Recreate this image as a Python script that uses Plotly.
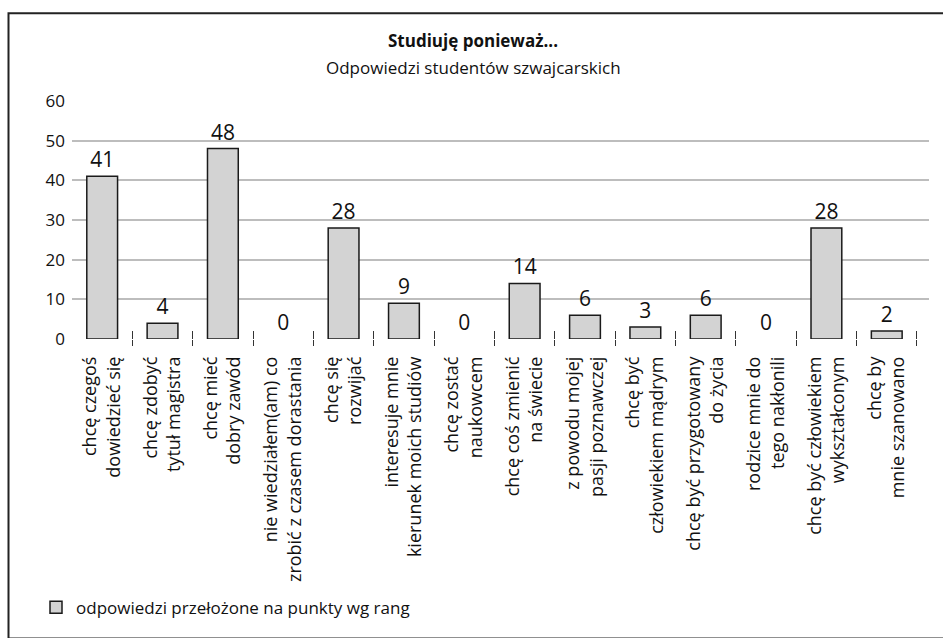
import plotly.graph_objects as go

# Reasons for studying, answers converted to rank points
categories = [
    "chcę czegoś<br>dowiedzieć się",
    "chcę zdobyć<br>tytuł magistra",
    "chcę mieć<br>dobry zawód",
    "nie wiedziałem(am) co<br>zrobić z czasem dorastania",
    "chcę się<br>rozwijać",
    "interesuje mnie<br>kierunek moich studiów",
    "chcę zostać<br>naukowcem",
    "chcę coś zmienić<br>na świecie",
    "z powodu mojej<br>pasji poznawczej",
    "chcę być<br>człowiekiem mądrym",
    "chcę być przygotowany<br>do życia",
    "rodzice mnie do<br>tego nakłonili",
    "chcę być człowiekiem<br>wykształconym",
    "chcę by<br>mnie szanowano",
]
points = [41, 4, 48, 0, 28, 9, 0, 14, 6, 3, 6, 0, 28, 2]
y_ticks = [0, 10, 20, 30, 40, 50, 60]
series_name = "odpowiedzi przełożone na punkty wg rang"

FONT = "Open Sans"
W, H = 943, 638
ML, MR, MT, MB = 72, 14, 101, 297
pw, ph = W - ML - MR, H - MT - MB

positions = list(range(len(categories)))
boundaries = [p + 0.5 for p in positions]
x_range = [-0.5, len(categories) - 0.3]

# empty bars get no outline so nothing shows on the baseline
outline_widths = [1.5 if v > 0 else 0 for v in points]

fig = go.Figure()
fig.add_trace(go.Bar(
    x=positions,
    y=points,
    width=0.51,
    name=series_name,
    marker=dict(color="#d3d3d3", line=dict(color="#1a1a1a", width=outline_widths)),
    text=[str(v) for v in points],
    textposition="outside",
    textfont=dict(family=FONT, size=21, color="#111"),
    cliponaxis=False,
    showlegend=True,
))


def to_px_x(px):
    return (px - ML) / pw


def to_px_y(py):
    return (H - MB - py) / ph


# Outer frame around the chart
frame = dict(type="rect", xref="paper", yref="paper",
             x0=to_px_x(8.5), x1=to_px_x(W + 5),
             y0=to_px_y(H + 5), y1=to_px_y(12.5),
             line=dict(color="#222", width=2), fillcolor="rgba(0,0,0,0)",
             layer="below")

fig.update_layout(
    width=W, height=H,
    margin=dict(l=ML, r=MR, t=MT, b=MB),
    paper_bgcolor="white",
    plot_bgcolor="white",
    font=dict(family=FONT, color="#111"),
    shapes=[frame],
    xaxis=dict(
        range=x_range,
        tickmode="array",
        tickvals=positions,
        ticktext=categories,
        tickangle=-90,
        ticks="",
        tickfont=dict(family=FONT, size=18, color="#111"),
        showgrid=False,
        zeroline=False,
        showline=False,
        ticklabelstandoff=13,
    ),
    # boundary ticks drawn crossing the baseline (outside + inside parts)
    xaxis2=dict(
        overlaying="x", range=x_range, tickmode="array", tickvals=boundaries,
        ticks="outside", ticklen=6, tickwidth=1.3, tickcolor="#333",
        showticklabels=False, showgrid=False, zeroline=False, showline=False,
        anchor="y", side="bottom",
    ),
    xaxis3=dict(
        overlaying="x", range=x_range, tickmode="array", tickvals=boundaries,
        ticks="inside", ticklen=8, tickwidth=1.3, tickcolor="#333",
        showticklabels=False, showgrid=False, zeroline=False, showline=False,
        anchor="y", side="bottom",
    ),
    yaxis=dict(
        range=[0, 60],
        tickmode="array",
        tickvals=y_ticks,
        ticks="",
        showgrid=True,
        gridcolor="#bdbdbd",
        gridwidth=1.5,
        zeroline=False,
        showline=False,
        tickfont=dict(family=FONT, size=17, color="#111"),
        ticklabelstandoff=6,
    ),
    legend=dict(
        x=to_px_x(36), y=to_px_y(612), xanchor="left", yanchor="middle",
        font=dict(family=FONT, size=17, color="#111"),
        bgcolor="rgba(0,0,0,0)",
    ),
    showlegend=True,
)

# empty traces that switch on the overlay tick axes
fig.add_trace(go.Scatter(x=[None], y=[None], xaxis="x2", showlegend=False, hoverinfo="skip"))
fig.add_trace(go.Scatter(x=[None], y=[None], xaxis="x3", showlegend=False, hoverinfo="skip"))

fig.add_annotation(
    text="<b>Studiuję ponieważ...</b>", xref="paper", yref="paper",
    x=to_px_x(473), y=to_px_y(40), xanchor="center", yanchor="middle",
    showarrow=False, font=dict(family=FONT, size=17, color="#111"),
)
fig.add_annotation(
    text="Odpowiedzi studentów szwajcarskich", xref="paper", yref="paper",
    x=to_px_x(473), y=to_px_y(67), xanchor="center", yanchor="middle",
    showarrow=False, font=dict(family=FONT, size=17, color="#111"),
)

fig.write_html("out.html")
